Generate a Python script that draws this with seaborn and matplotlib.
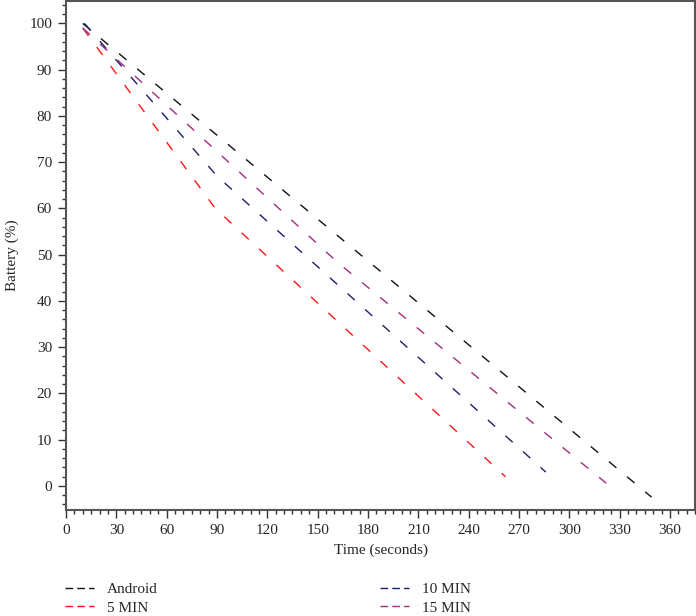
import numpy as np
import pandas as pd
import matplotlib
matplotlib.use("Agg")
import matplotlib.pyplot as plt
from matplotlib.lines import Line2D
import seaborn as sns

# values (time in s, battery in %)
android_t = [10, 349]
android_b = [100, -2.4]
min5_t = [10, 89, 262]
min5_b = [99, 60, 2]
min10_t = [11, 90, 286]
min10_b = [100, 67, 3]
min15_t = [10, 34, 162, 322]
min15_b = [99, 91, 48.3, 0.6]

labels = ["Android", "5 MIN", "10 MIN", "15 MIN"]
colors = ["#111111", "#ff1414", "#1e1e6e", "#a02c80"]

series = [(android_t, android_b), (min5_t, min5_b), (min10_t, min10_b), (min15_t, min15_b)]

sns.set_style("ticks")
plt.rcParams['font.family'] = ['Liberation Serif', 'DejaVu Serif']
fs = 11

fig = plt.figure(figsize=(6.96, 6.16), dpi=100)
ax = fig.add_axes([0.0948, 0.172, 0.904, 0.826])

for (t, b), lab, col in zip(series, labels, colors):
    df = pd.DataFrame({"time": t, "battery": b})
    sns.lineplot(data=df, x="time", y="battery", color=col, linewidth=1.0,
                 linestyle=(0, (7, 10)), ax=ax, legend=False)

ax.set_xlim(0, 375)
ax.set_ylim(-5.2, 104.8)
ax.set_xticks(np.arange(0, 361, 30))
ax.set_xticks(np.arange(0, 376, 5), minor=True)
ax.set_yticks(np.arange(0, 101, 10))
ax.set_yticks(np.arange(-4, 105, 2), minor=True)
ax.tick_params(which='major', direction='out', length=6, width=1, color='#333333',
               labelsize=fs, pad=4, top=False, right=False)
ax.tick_params(which='minor', direction='out', length=3, width=1, color='#333333',
               top=False, right=False)
for s in ax.spines.values():
    s.set_linewidth(1.5)
    s.set_color('#555555')

ax.set_xlabel("Time (seconds)", fontsize=fs, labelpad=5)
ax.set_ylabel("Battery (%)", fontsize=fs, labelpad=7)

handles = [Line2D([], [], color=c, linewidth=1.0, linestyle=(0, (5.5, 3)))
           for c in colors]
fig.legend(handles, labels, loc='upper left', bbox_to_anchor=(0.094, 0.054),
           ncol=2, frameon=False, fontsize=fs, handlelength=1.85,
           handletextpad=0.85, columnspacing=14.6, labelspacing=0.3,
           borderaxespad=0, borderpad=0)

fig.savefig("out.png", dpi=100)
